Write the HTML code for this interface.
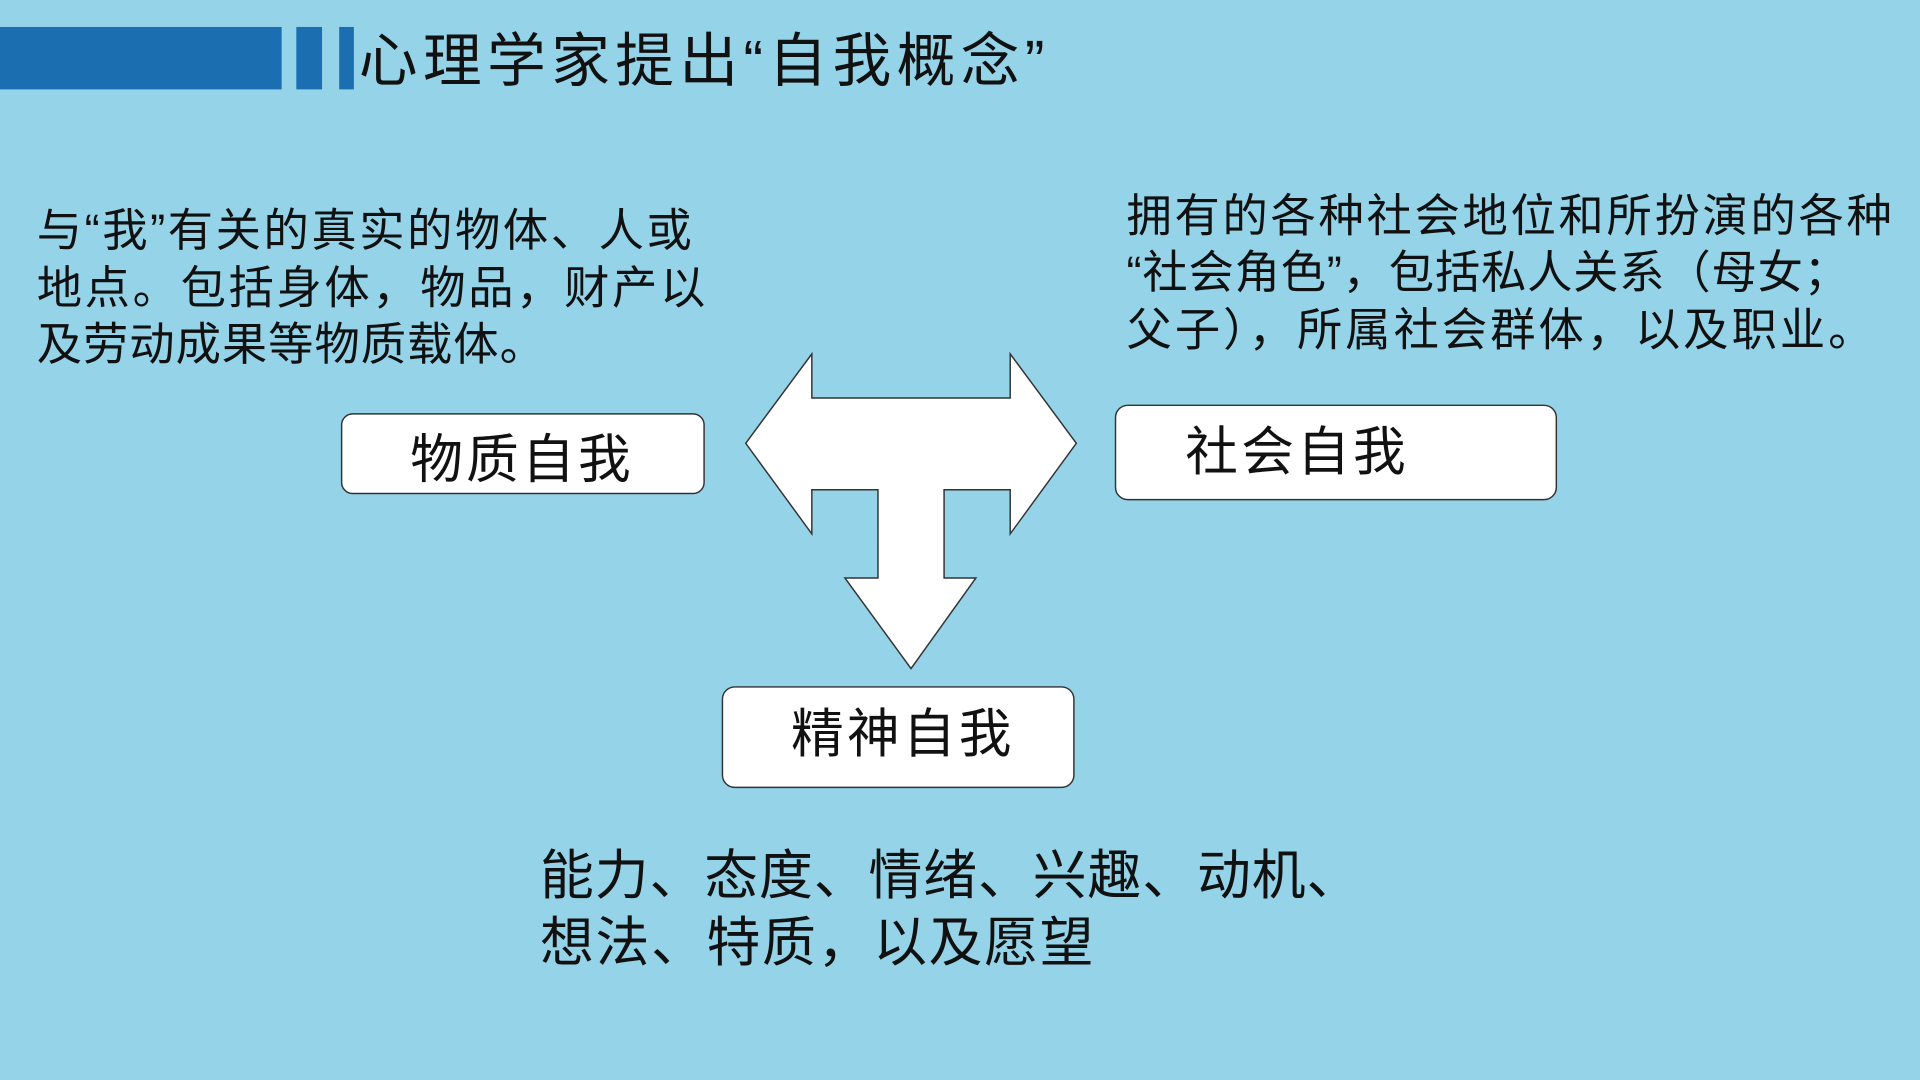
<!DOCTYPE html>
<html><head><meta charset="utf-8"><style>
html,body{margin:0;padding:0;width:1920px;height:1080px;overflow:hidden;background:#95d3e8;}
svg{display:block}
text{font-family:"Liberation Sans","Noto Sans CJK SC",sans-serif;fill:#111;}
</style></head><body>
<svg width="1920" height="1080" viewBox="0 0 1568 882" xmlns="http://www.w3.org/2000/svg">
<rect width="1568" height="882" fill="#95d3e8"/>
<rect x="0" y="22" width="230" height="51" fill="#1b6fb1"/>
<rect x="242" y="22" width="21" height="51" fill="#1b6fb1"/>
<rect x="277" y="22" width="12" height="51" fill="#1b6fb1"/>
<text x="293" y="66" font-size="48" textLength="560">心理学家提出“自我概念”</text>

<text font-size="37">
<tspan x="30" y="201" textLength="535">与“我”有关的真实的物体、人或</tspan>
<tspan x="30" y="248" textLength="546">地点。包括身体，物品，财产以</tspan>
<tspan x="30" y="294" textLength="415">及劳动成果等物质载体。</tspan>
</text>
<text font-size="37">
<tspan x="920" y="189" textLength="625">拥有的各种社会地位和所扮演的各种</tspan>
<tspan x="920" y="235" textLength="590">“社会角色”，包括私人关系（母女；</tspan>
<tspan x="920" y="282" textLength="610">父子），所属社会群体，以及职业。</tspan>
</text>

<rect x="279" y="338" width="296" height="65" rx="9" fill="#fff" stroke="#333" stroke-width="1.2"/>
<text x="335" y="390" font-size="43" textLength="180">物质自我</text>
<rect x="911" y="331" width="360" height="77" rx="10" fill="#fff" stroke="#333" stroke-width="1.2"/>
<text x="968" y="384" font-size="43" textLength="180">社会自我</text>
<rect x="590" y="561" width="287" height="82" rx="10" fill="#fff" stroke="#333" stroke-width="1.2"/>
<text x="646" y="614" font-size="43" textLength="180">精神自我</text>

<polygon points="609,362 663,289 663,325 825,325 825,289 879,362 825,436 825,400 771,400 771,472 797,472 744,546 690,472 717,472 717,400 663,400 663,436" fill="#fff" stroke="#333" stroke-width="1.2"/>

<text font-size="44">
<tspan x="441" y="730" textLength="670">能力、态度、情绪、兴趣、动机、</tspan>
<tspan x="441" y="785" textLength="452">想法、特质，以及愿望</tspan>
</text>
</svg>
</body></html>
